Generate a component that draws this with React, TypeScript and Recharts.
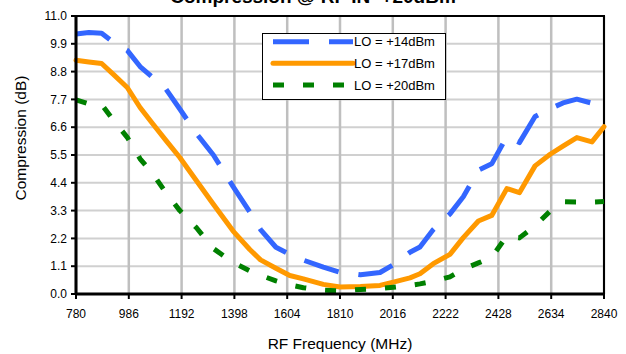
import { LineChart, Line, XAxis, YAxis, CartesianGrid, ReferenceArea, Legend } from "recharts";

// RF frequency (MHz) sample points
const freq = [
  780, 830, 880, 930, 980, 1030, 1080, 1130, 1185, 1250, 1316, 1393, 1458, 1500,
  1560, 1614, 1667, 1745, 1810, 1890, 1966, 2018, 2083, 2122, 2174, 2239, 2291,
  2350, 2402, 2461, 2510, 2571, 2630, 2680, 2734, 2793, 2840,
];

// compression (dB) per LO drive
const lo14 = [
  10.29, 10.35, 10.32, 9.93, 9.64, 9.0, 8.56, 8.12, 7.32, 6.35, 5.5, 4.25, 3.25, 2.55,
  1.85, 1.57, 1.34, 1.06, 0.86, 0.76, 0.85, 1.16, 1.65, 1.86, 2.55, 3.17, 3.85,
  4.9, 5.15, 6.23, 5.99, 7.02, 7.33, 7.56, 7.71, 7.55, 7.87,
];
const lo17 = [
  9.25, 9.18, 9.12, 8.65, 8.17, 7.38, 6.73, 6.09, 5.4, 4.48, 3.55, 2.49, 1.76, 1.35,
  1.02, 0.73, 0.6, 0.38, 0.28, 0.3, 0.34, 0.47, 0.64, 0.8, 1.2, 1.57, 2.23,
  2.89, 3.11, 4.17, 4.01, 5.07, 5.53, 5.85, 6.19, 6.02, 6.62,
];
const lo20 = [
  7.68, 7.52, 7.5, 6.82, 6.2, 5.35, 4.75, 4.02, 3.3, 2.62, 1.8, 1.24, 0.92, 0.74,
  0.52, 0.36, 0.25, 0.15, 0.12, 0.18, 0.22, 0.27, 0.34, 0.4, 0.5, 0.68, 0.98,
  1.23, 1.45, 2.3, 2.22, 2.7, 3.28, 3.65, 3.64, 3.64, 3.66,
];

const xTicks = [780, 986, 1192, 1398, 1604, 1810, 2016, 2222, 2428, 2634, 2840];
const yTicks = [0, 1.1, 2.2, 3.3, 4.4, 5.5, 6.6, 7.7, 8.8, 9.9, 11];

const seriesInfo = [
  { key: "lo14", name: "LO = +14dBm", color: "#3366FF", dash: "36 20" },
  { key: "lo17", name: "LO = +17dBm", color: "#FF9900", dash: undefined },
  { key: "lo20", name: "LO = +20dBm", color: "#008000", dash: "11 19" },
];

const data = freq.map((f, i) => ({ f, lo14: lo14[i], lo17: lo17[i], lo20: lo20[i] }));

const font = "'Liberation Sans', Arial, sans-serif";

function LegendBox() {
  const rows = [8.7, 30.3, 52];
  return (
    <svg width={184} height={67} style={{ display: "block" }}>
      <rect x={0.5} y={0.5} width={183} height={66} fill="#fff" stroke="#000" strokeWidth={1} />
      {seriesInfo.map((s, i) => (
        <g key={s.key}>
          <line
            x1={11}
            x2={91}
            y1={rows[i]}
            y2={rows[i]}
            stroke={s.color}
            strokeWidth={5}
            strokeDasharray={s.dash}
            strokeLinecap={s.dash ? "butt" : "round"}
          />
          <text x={92} y={rows[i] + 4.5} fontSize={13} fontFamily={font} fill="#000">
            {s.name}
          </text>
        </g>
      ))}
    </svg>
  );
}

export default function App() {
  return (
    <div style={{ position: "absolute", left: 0, top: 0, width: 626, height: 354, background: "#fff" }}>
      <LineChart width={626} height={354} data={data} margin={{ top: 16, right: 22, left: 0, bottom: 0 }}>
        <CartesianGrid vertical={false} stroke="#d0d0d0" strokeWidth={2} />
        <CartesianGrid horizontal={false} stroke="#bfbfbf" strokeWidth={2.5} />
        <ReferenceArea x1={780} x2={2840} y1={0} y2={11} fill="none" stroke="#000" strokeWidth={2} />
        <XAxis
          dataKey="f"
          type="number"
          domain={[780, 2840]}
          ticks={xTicks}
          height={60}
          axisLine={{ stroke: "#000", strokeWidth: 3 }}
          tickLine={{ stroke: "#000", strokeWidth: 2 }}
          tickSize={5}
          tickMargin={10}
          tick={{ fill: "#000", fontSize: 12, fontFamily: font }}
          interval={0}
        />
        <YAxis
          type="number"
          domain={[0, 11]}
          ticks={yTicks}
          width={76}
          axisLine={{ stroke: "#000", strokeWidth: 3 }}
          tickLine={{ stroke: "#000", strokeWidth: 2 }}
          tickSize={5}
          tickMargin={4}
          tick={{ fill: "#000", fontSize: 12, fontFamily: font }}
          tickFormatter={(v: number) => v.toFixed(1)}
          interval={0}
        />
        <Legend
          layout="horizontal"
          verticalAlign="middle"
          align="center"
          content={() => <LegendBox />}
          wrapperStyle={{ left: 262, top: 33, width: 184, height: 67 }}
        />
        {seriesInfo.map((s) => (
          <Line
            key={s.key}
            type="linear"
            dataKey={s.key}
            name={s.name}
            stroke={s.color}
            strokeWidth={5}
            strokeDasharray={s.dash}
            strokeLinecap={s.dash ? "butt" : "round"}
            strokeLinejoin="round"
            dot={false}
            activeDot={false}
            isAnimationActive={false}
          />
        ))}
      </LineChart>
      <svg
        width={626}
        height={354}
        style={{ position: "absolute", left: 0, top: 0, pointerEvents: "none" }}
      >
        <text x={313} y={3} textAnchor="middle" fontSize={19} fontWeight="bold" fontFamily={font} fill="#000">
          Compression @ RF IN=+20dBm
        </text>
        <text x={340} y={349} textAnchor="middle" fontSize={15.5} fontFamily={font} fill="#000">
          RF Frequency (MHz)
        </text>
        <text
          x={26}
          y={138}
          textAnchor="middle"
          fontSize={15.5}
          fontFamily={font}
          fill="#000"
          transform="rotate(-90 26 138)"
        >
          Compression (dB)
        </text>
      </svg>
    </div>
  );
}
